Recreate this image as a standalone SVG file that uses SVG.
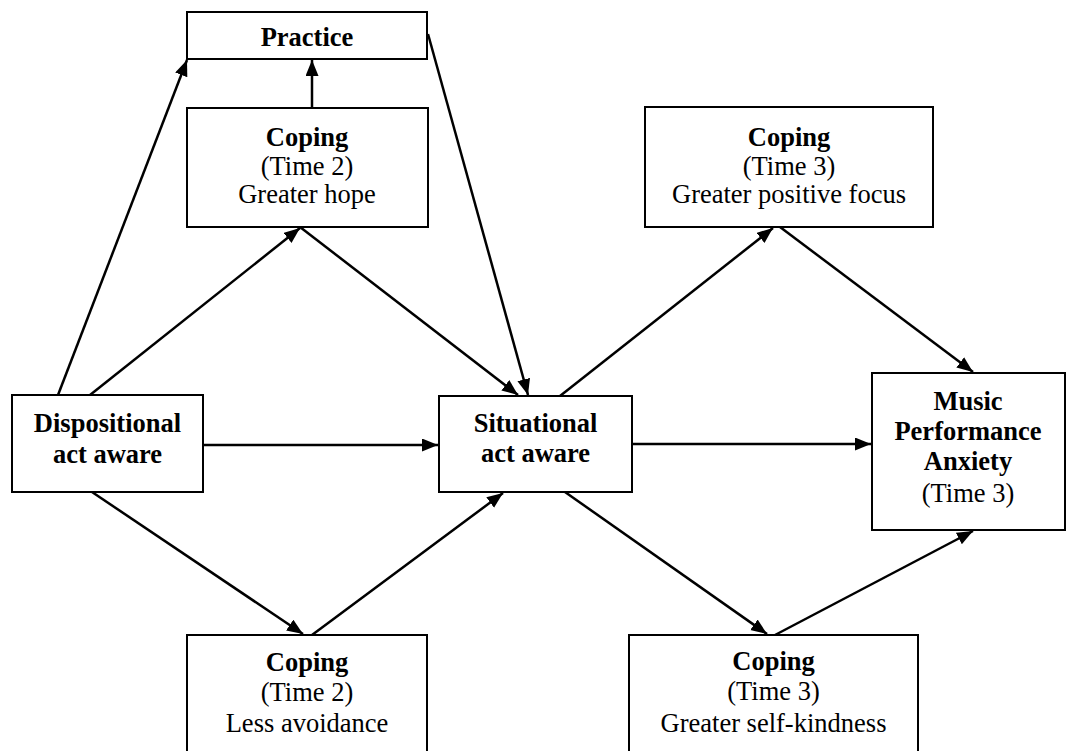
<svg xmlns="http://www.w3.org/2000/svg" width="1066" height="751" viewBox="0 0 1066 751">
  <defs>
    <marker id="arrow" markerUnits="userSpaceOnUse" markerWidth="17" markerHeight="14" refX="16" refY="6.5" orient="auto">
      <path d="M0,0 L16,6.5 L0,13 z" fill="#000"/>
    </marker>
    <style>
      .box { fill: #fff; stroke: #000; stroke-width: 2; }
      .edge { stroke: #000; stroke-width: 2.5; fill: none; marker-end: url(#arrow); }
      text { font-family: "Liberation Serif", "Times New Roman", serif; font-size: 26.5px; fill: #000; text-anchor: middle; }
      .b { font-weight: bold; }
    </style>
  </defs>
  <rect width="1066" height="751" fill="#fff"/>

  <g id="connectors">
    <line class="edge" x1="58" y1="395" x2="187" y2="60"/>
    <line class="edge" x1="312" y1="108" x2="312" y2="60"/>
    <line class="edge" x1="428" y1="34" x2="528" y2="395"/>
    <line class="edge" x1="90" y1="395" x2="300" y2="228"/>
    <line class="edge" x1="300" y1="227" x2="518" y2="395"/>
    <line class="edge" x1="203" y1="445" x2="438" y2="445"/>
    <line class="edge" x1="92" y1="492" x2="303" y2="634"/>
    <line class="edge" x1="312" y1="635" x2="503" y2="493"/>
    <line class="edge" x1="560" y1="396" x2="773" y2="228"/>
    <line class="edge" x1="780" y1="227" x2="973" y2="372"/>
    <line class="edge" x1="632" y1="444" x2="871" y2="444"/>
    <line class="edge" x1="565" y1="492" x2="767" y2="634"/>
    <line class="edge" x1="775" y1="635" x2="973" y2="531"/>
  </g>

  <g id="practice">
    <rect class="box" x="187" y="12" width="240" height="47"/>
    <text class="b" x="307" y="46">Practice</text>
  </g>

  <g id="coping-hope">
    <rect class="box" x="187" y="108" width="241" height="119"/>
    <text class="b" x="307" y="146">Coping</text>
    <text x="307" y="175">(Time 2)</text>
    <text x="307" y="203">Greater hope</text>
  </g>

  <g id="coping-focus">
    <rect class="box" x="645" y="107" width="288" height="120"/>
    <text class="b" x="789" y="146">Coping</text>
    <text x="789" y="175">(Time 3)</text>
    <text x="789" y="203">Greater positive focus</text>
  </g>

  <g id="dispositional">
    <rect class="box" x="12" y="395" width="191" height="97"/>
    <text class="b" x="107.5" y="432">Dispositional</text>
    <text class="b" x="107.5" y="463">act aware</text>
  </g>

  <g id="situational">
    <rect class="box" x="439" y="396" width="193" height="96"/>
    <text class="b" x="535.5" y="432">Situational</text>
    <text class="b" x="535.5" y="462">act aware</text>
  </g>

  <g id="mpa">
    <rect class="box" x="872" y="373" width="193" height="157"/>
    <text class="b" x="968" y="410">Music</text>
    <text class="b" x="968" y="440">Performance</text>
    <text class="b" x="968" y="470">Anxiety</text>
    <text x="968" y="502">(Time 3)</text>
  </g>

  <g id="coping-avoidance">
    <rect class="box" x="187" y="635" width="240" height="130"/>
    <text class="b" x="307" y="671">Coping</text>
    <text x="307" y="701">(Time 2)</text>
    <text x="307" y="732">Less avoidance</text>
  </g>

  <g id="coping-kindness">
    <rect class="box" x="629" y="635" width="289" height="130"/>
    <text class="b" x="773.5" y="670">Coping</text>
    <text x="773.5" y="700">(Time 3)</text>
    <text x="773.5" y="732">Greater self-kindness</text>
  </g>
</svg>
